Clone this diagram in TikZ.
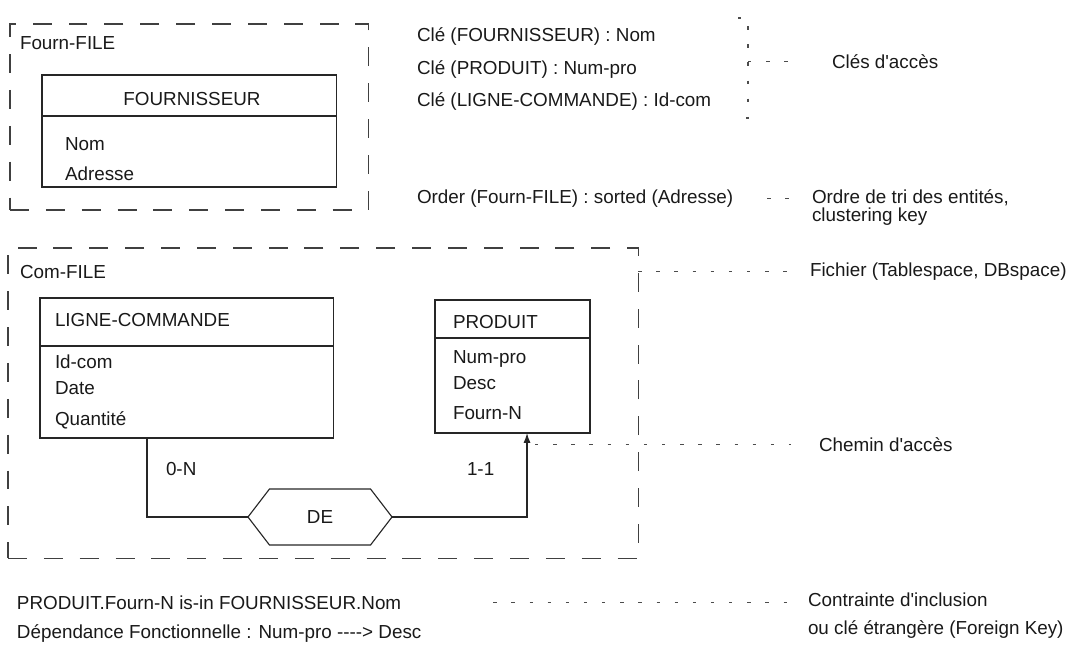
\documentclass[tikz,border=0pt]{standalone}
\usepackage{fontspec}
\setmainfont{Liberation Sans}[Ligatures=TeXOff]
\usetikzlibrary{shapes.symbols,arrows.meta}

\begin{document}
\begin{tikzpicture}[x=0.025cm,y=-0.025cm,
  every node/.style={font=\fontsize{13.4}{15}\selectfont,inner sep=0pt,outer sep=0pt,text=black!90},
  txt/.style={anchor=base west},
  fichier/.style={draw=black!75,line width=0.8pt,dash pattern=on 13.5pt off 12pt,anchor=north west},
  entite/.style={draw=black!85,line width=0.8pt,anchor=north west},
  renvoi/.style={draw=black!70,line width=0.75pt,dash pattern=on 2.4pt off 10.5pt},
  lien/.style={draw=black!85,line width=0.8pt}]
\useasboundingbox (0,0) rectangle (1077,651);

% fichiers
\node[fichier,minimum width=8.95cm,minimum height=4.65cm] (fournf) at (10,24) {};
\node[txt] (fournfile) at (20,49.5) {Fourn-FILE};
\node[fichier,minimum width=15.75cm,minimum height=7.75cm] (comf) at (8,248) {};
\node[txt] (comfile) at (20,278.5) {Com-FILE};

% FOURNISSEUR
\node[entite,minimum width=7.35cm,minimum height=2.8cm] (fourn) at (42,75) {};
\draw[lien] ([yshift=-1.025cm]fourn.north west) -- ([yshift=-1.025cm]fourn.north east);
\node[anchor=base] (fournt) at (192,105.5) {FOURNISSEUR};
\foreach \t/\y [count=\i] in {Nom/150.5,Adresse/180.5}
  \node[txt] (fourna\i) at (65,\y) {\t};

% LIGNE-COMMANDE
\node[entite,minimum width=7.325cm,minimum height=3.5cm] (ligne) at (40,298) {};
\draw[lien] ([yshift=-1.2cm]ligne.north west) -- ([yshift=-1.2cm]ligne.north east);
\node[txt] (lignet) at (55,326.5) {LIGNE-COMMANDE};
\foreach \t/\y [count=\i] in {Id-com/368.5,Date/394.5,Quantité/425}
  \node[txt] (lignea\i) at (55,\y) {\t};

% PRODUIT
\node[entite,minimum width=3.875cm,minimum height=3.325cm] (produit) at (435,300) {};
\draw[lien] ([yshift=-0.95cm]produit.north west) -- ([yshift=-0.95cm]produit.north east);
\node[txt] (produitt) at (453,328.5) {PRODUIT};
\foreach \t/\y [count=\i] in {Num-pro/363.5,Desc/389.5,Fourn-N/419.5}
  \node[txt] (produita\i) at (453,\y) {\t};

% association DE
\node[draw=black!85,line width=0.8pt,signal,signal to=west and east,signal pointer angle=105,
  minimum width=3.6cm,minimum height=1.4cm] (de) at (320,517) {DE};
\draw[lien] (ligne.south west) ++(107,0) |- (de.west);
\draw[lien,-{Latex[length=7pt,width=5pt]}] (de.east) -| ([xshift=2.3cm]produit.south west);
\node[txt] (card0n) at (166,475.5) {0-N};
\node[txt] (card11) at (467,475.5) {1-1};

% cles
\node[txt] (cle1) at (417,41.5) {Clé (FOURNISSEUR) : Nom};
\node[txt] (cle2) at (417,74.5) {Clé (PRODUIT) : Num-pro};
\node[txt] (cle3) at (417,106.5) {Clé (LIGNE-COMMANDE) : Id-com};
\node[txt] (cles) at (832,68.5) {Clés d'accès};
\coordinate (acch) at (748,18);
\coordinate (accb) at (748,118);
\draw[renvoi] ([xshift=-0.25cm]acch) -- (acch) -- (accb) -- ([xshift=-0.25cm]accb);
\draw[renvoi,shorten >=0.9cm] (acch |- cles.west) -- (cles.west);

% ordre
\node[txt] (order) at (417,203.5) {Order (Fourn-FILE) : sorted (Adresse)};
\node[txt] (ordre1) at (812,203.5) {Ordre de tri des entités,};
\node[txt] (ordre2) at (812,221.5) {clustering key};
\draw[renvoi,shorten <=0.85cm,shorten >=0.4cm] (order.east) -- (ordre1.west |- order.east);

% fichier et chemin
\node[txt] (fichierl) at (810,276.5) {Fichier (Tablespace, DBspace)};
\draw[renvoi,shorten >=0.55cm] (comf.east |- fichierl.west) -- (fichierl.west);
\node[txt] (chemin) at (819,451.5) {Chemin d'accès};
\draw[renvoi,shorten <=0.2cm,shorten >=0.7cm] ([xshift=2.3cm]produit.south west |- chemin.west) -- (chemin.west);

% contraintes
\node[txt] (inclus) at (17,609.5) {PRODUIT.Fourn-N is-in FOURNISSEUR.Nom};
\node[txt] (depf) at (17,638.5) {Dépendance Fonctionnelle : Num-pro ----> Desc};
\node[txt] (contr1) at (808,606.5) {Contrainte d'inclusion};
\node[txt] (contr2) at (808,634.5) {ou clé étrangère (Foreign Key)};
\draw[renvoi,shorten <=2.3cm,shorten >=0.45cm] (inclus.east) -- (contr1.west |- inclus.east);
\end{tikzpicture}
\end{document}
